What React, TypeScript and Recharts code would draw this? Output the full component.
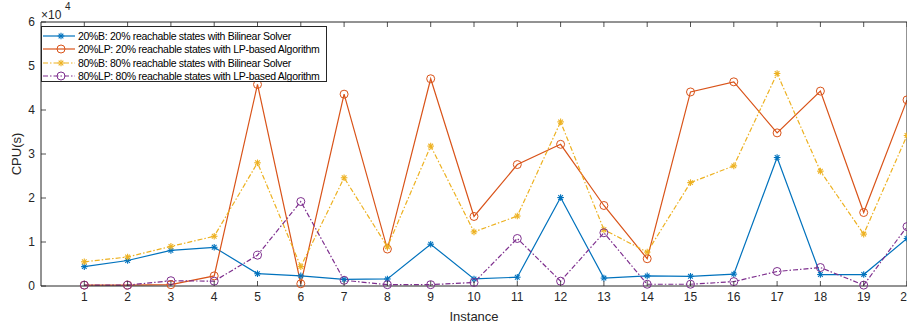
import { LineChart, Line, XAxis, YAxis } from "recharts";

const instances = [1, 2, 3, 4, 5, 6, 7, 8, 9, 10, 11, 12, 13, 14, 15, 16, 17, 18, 19, 20];
const bilinear20 = [4400, 5800, 8100, 8800, 2800, 2300, 1500, 1600, 9500, 1600, 2000, 20100, 1800, 2300, 2200, 2700, 29200, 2600, 2600, 10800];
const lp20 = [200, 200, 300, 2300, 45800, 500, 43600, 8400, 47100, 15800, 27600, 32200, 18300, 6200, 44100, 46400, 34800, 44300, 16700, 42300];
const bilinear80 = [5500, 6600, 9000, 11300, 28000, 4400, 24600, 8900, 31800, 12300, 15900, 37300, 12800, 7700, 23500, 27300, 48300, 26100, 11800, 34200];
const lp80 = [200, 200, 1200, 1100, 7000, 19200, 1300, 300, 300, 800, 10800, 1100, 12100, 400, 400, 1000, 3300, 4200, 200, 13500];
const yTicks = [0, 10000, 20000, 30000, 40000, 50000, 60000];

const data = instances.map((inst, i) => ({
  inst,
  b20: bilinear20[i],
  lp20: lp20[i],
  b80: bilinear80[i],
  lp80: lp80[i],
}));

const series = [
  { key: "b20", name: "20%B: 20% reachable states with Bilinear Solver", color: "#0072BD", dash: undefined, marker: "star" },
  { key: "lp20", name: "20%LP: 20% reachable states with LP-based Algorithm", color: "#D95319", dash: undefined, marker: "circle" },
  { key: "b80", name: "80%B: 80% reachable states with Bilinear Solver", color: "#EDB120", dash: "5 2 1.5 2", marker: "star" },
  { key: "lp80", name: "80%LP: 80% reachable states with LP-based Algorithm", color: "#7E2F8E", dash: "5 2 1.5 2", marker: "circle" },
];

const AXIS = "#262626";
const FONT = '"Liberation Sans", Arial, Helvetica, sans-serif';

const Marker = ({ cx, cy, color, kind }: any) => {
  if (cx == null || cy == null) return null;
  if (kind === "circle") {
    return <circle cx={cx} cy={cy} r={4} fill="none" stroke={color} strokeWidth={1} />;
  }
  const r = 3.3;
  const d = r * 0.707;
  return (
    <g stroke={color} strokeWidth={1.1}>
      <line x1={cx - r} y1={cy} x2={cx + r} y2={cy} />
      <line x1={cx} y1={cy - r} x2={cx} y2={cy + r} />
      <line x1={cx - d} y1={cy - d} x2={cx + d} y2={cy + d} />
      <line x1={cx - d} y1={cy + d} x2={cx + d} y2={cy - d} />
    </g>
  );
};

const BottomTick = (props: any) => {
  const { x, y, payload } = props;
  return (
    <g>
      <line x1={x} x2={x} y1={y} y2={y - 5} stroke={AXIS} strokeWidth={0.8} />
      <text x={x} y={y + 15} textAnchor="middle" fill={AXIS} fontSize={12} fontFamily={FONT}>
        {payload.value}
      </text>
    </g>
  );
};

const TopTick = (props: any) => {
  const { x, y } = props;
  return <line x1={x} x2={x} y1={y} y2={y + 5} stroke={AXIS} strokeWidth={0.8} />;
};

const LeftTick = (props: any) => {
  const { x, y, payload } = props;
  return (
    <g>
      <line x1={x} x2={x + 5} y1={y} y2={y} stroke={AXIS} strokeWidth={0.8} />
      <text x={x - 6} y={y + 4} textAnchor="end" fill={AXIS} fontSize={12} fontFamily={FONT}>
        {payload.value / 10000}
      </text>
    </g>
  );
};

const RightTick = (props: any) => {
  const { x, y } = props;
  return <line x1={x} x2={x - 5} y1={y} y2={y} stroke={AXIS} strokeWidth={0.8} />;
};

const XLabel = ({ viewBox }: any) => (
  <text x={viewBox.x + viewBox.width / 2} y={viewBox.y + 35} textAnchor="middle" fill={AXIS} fontSize={13} fontFamily={FONT}>
    Instance
  </text>
);

const YLabel = ({ viewBox }: any) => {
  const cx = 21;
  const cy = viewBox.y + viewBox.height / 2;
  return (
    <text x={cx} y={cy} transform={`rotate(-90 ${cx} ${cy})`} textAnchor="middle" fill={AXIS} fontSize={13} fontFamily={FONT}>
      CPU(s)
    </text>
  );
};

const LegendBox = () => (
  <div
    style={{
      position: "absolute",
      left: 41,
      top: 26,
      width: 286,
      height: 56,
      boxSizing: "border-box",
      border: `1px solid ${AXIS}`,
      background: "#fff",
      paddingTop: 2,
      fontFamily: FONT,
      fontSize: 10.5,
      letterSpacing: -0.3,
      color: "#000",
    }}
  >
    {series.map((s) => (
      <div key={s.key} style={{ display: "flex", alignItems: "center", height: 13.5 }}>
        <svg width={36} height={12} style={{ flex: "none" }}>
          <line x1={1} x2={33} y1={6} y2={6} stroke={s.color} strokeWidth={1.2} strokeDasharray={s.dash} />
          <Marker cx={19} cy={6} color={s.color} kind={s.marker} />
        </svg>
        <span style={{ whiteSpace: "nowrap" }}>{s.name}</span>
      </div>
    ))}
  </div>
);

export default function App() {
  return (
    <div style={{ position: "absolute", left: 0, top: 0, width: 907, height: 325, overflow: "hidden", background: "#fff" }}>
      <LineChart width={908} height={325} data={data} margin={{ top: 21, right: 0, bottom: 0, left: 0 }}>
        <XAxis
          dataKey="inst"
          type="number"
          domain={[0, 20]}
          ticks={instances}
          interval={0}
          height={39}
          stroke={AXIS}
          tickSize={0}
          tickMargin={0}
          tickLine={false}
          tick={<BottomTick />}
          label={<XLabel />}
        />
        <XAxis
          xAxisId="top"
          orientation="top"
          dataKey="inst"
          type="number"
          domain={[0, 20]}
          ticks={instances}
          interval={0}
          height={1}
          stroke={AXIS}
          tickSize={0}
          tickMargin={0}
          tickLine={false}
          tick={<TopTick />}
        />
        <YAxis
          domain={[0, 60000]}
          ticks={yTicks}
          interval={0}
          width={41}
          stroke={AXIS}
          tickSize={0}
          tickMargin={0}
          tickLine={false}
          tick={<LeftTick />}
          label={<YLabel />}
        />
        <YAxis
          yAxisId="right"
          orientation="right"
          domain={[0, 60000]}
          ticks={yTicks}
          interval={0}
          width={1}
          stroke={AXIS}
          tickSize={0}
          tickMargin={0}
          tickLine={false}
          tick={<RightTick />}
        />
        {series.map((s) => (
          <Line
            key={s.key}
            dataKey={s.key}
            name={s.name}
            type="linear"
            stroke={s.color}
            strokeWidth={1.2}
            strokeDasharray={s.dash}
            isAnimationActive={false}
            dot={(p: any) => <Marker key={`${s.key}-${p.index}`} cx={p.cx} cy={p.cy} color={s.color} kind={s.marker} />}
            activeDot={false}
          />
        ))}
      </LineChart>
      <div style={{ position: "absolute", left: 41, top: 0, fontFamily: FONT, fontSize: 12, color: AXIS, lineHeight: "14px" }}>
        <span style={{ position: "absolute", top: 8, whiteSpace: "nowrap" }}>×10</span>
        <span style={{ position: "absolute", left: 24, top: 0, fontSize: 10 }}>4</span>
      </div>
      <LegendBox />
    </div>
  );
}
